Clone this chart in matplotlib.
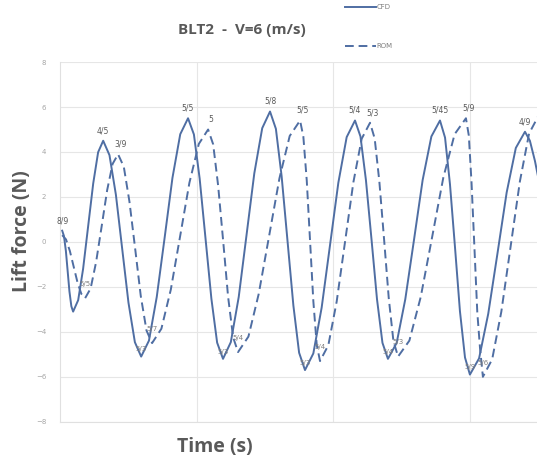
import matplotlib
matplotlib.use("Agg")
import matplotlib.pyplot as plt

# Datos (tiempo en unidades de la rejilla, fuerza en N)
cfd_time = [0.015, 0.028, 0.042, 0.055, 0.068, 0.082,
            0.095, 0.132, 0.168, 0.205, 0.242, 0.278,
            0.315, 0.361, 0.408, 0.454, 0.500, 0.547,
            0.593, 0.650, 0.707, 0.765, 0.822, 0.879,
            0.936, 0.979, 1.021, 1.064, 1.107, 1.149,
            1.192, 1.249, 1.307, 1.364, 1.421, 1.479,
            1.536, 1.579, 1.621, 1.664, 1.707, 1.749,
            1.792, 1.853, 1.914, 1.975, 2.036, 2.097,
            2.158, 2.198, 2.238, 2.279, 2.319, 2.359,
            2.399, 2.463, 2.526, 2.590, 2.653, 2.717,
            2.780, 2.817, 2.853, 2.890, 2.926, 2.963,
            2.999, 3.066, 3.133, 3.201, 3.268, 3.335,
            3.402, 3.438, 3.475, 3.511]
cfd_force = [0.5, 0.26, -0.4, -1.3, -2.2, -2.86,
             -3.1, -2.59, -1.2, 0.7, 2.6, 3.99,
             4.5, 3.86, 2.1, -0.3, -2.7, -4.46,
             -5.1, -4.39, -2.45, 0.2, 2.85, 4.79,
             5.5, 4.78, 2.82, 0.15, -2.53, -4.48,
             -5.2, -4.46, -2.45, 0.3, 3.05, 5.06,
             5.8, 5.03, 2.92, 0.05, -2.83, -4.93,
             -5.7, -4.96, -2.92, -0.15, 2.63, 4.66,
             5.4, 4.69, 2.75, 0.1, -2.55, -4.49,
             -5.2, -4.49, -2.55, 0.1, 2.75, 4.69,
             5.4, 4.64, 2.57, -0.25, -3.08, -5.14,
             -5.9, -5.18, -3.2, -0.5, 2.2, 4.18,
             4.9, 4.5, 3.6, 2.5]

rom_time = [0.015, 0.043, 0.071, 0.099, 0.127, 0.155,
            0.183, 0.223, 0.263, 0.304, 0.344, 0.384,
            0.424, 0.466, 0.507, 0.549, 0.590, 0.632,
            0.673, 0.741, 0.810, 0.878, 0.946, 1.015,
            1.083, 1.120, 1.156, 1.193, 1.229, 1.266,
            1.302, 1.378, 1.453, 1.529, 1.605, 1.680,
            1.756, 1.780, 1.805, 1.829, 1.853, 1.878,
            1.902, 1.963, 2.024, 2.085, 2.146, 2.207,
            2.268, 2.302, 2.336, 2.371, 2.405, 2.439,
            2.473, 2.556, 2.639, 2.722, 2.804, 2.887,
            2.970, 2.991, 3.011, 3.032, 3.053, 3.073,
            3.094, 3.162, 3.229, 3.297, 3.365, 3.432,
            3.500]
rom_force = [0.3, 0.11, -0.4, -1.1, -1.8, -2.31,
             -2.5, -2.07, -0.9, 0.7, 2.3, 3.47,
             3.9, 3.34, 1.8, -0.3, -2.4, -3.94,
             -4.5, -3.86, -2.12, 0.25, 2.63, 4.36,
             5.0, 4.34, 2.52, 0.05, -2.43, -4.24,
             -4.9, -4.21, -2.32, 0.25, 2.83, 4.71,
             5.4, 4.68, 2.72, 0.05, -2.63, -4.58,
             -5.3, -4.59, -2.65, 0.0, 2.65, 4.59,
             5.3, 4.6, 2.7, 0.1, -2.5, -4.4,
             -5.1, -4.39, -2.45, 0.2, 2.85, 4.79,
             5.5, 4.73, 2.62, -0.25, -3.13, -4.73,
             -6.0, -5.22, -3.1, -0.2, 2.7, 4.82,
             5.6]

# etiquetas de datos: índice del punto -> texto
cfd_labels = {0: "8/9", 12: "4/5", 24: "5/5", 36: "5/8", 48: "5/4", 60: "5/45", 72: "4/9"}
rom_labels = {12: "3/9", 24: "5", 36: "5/5", 48: "5/3", 60: "5/9", 72: "5/"}
cfd_low_labels = {18: "5/3", 30: "5/3", 42: "5/3", 54: "5/4", 66: "5/9"}
rom_low_labels = {6: "5/5", 18: "5/7", 30: "5/4", 42: "5/4", 54: "5/3", 66: "5/6"}

y_ticks = [-8, -6, -4, -2, 0, 2, 4, 6, 8]
x_grid = [1, 2, 3]

line_color = "#4f6ea3"
grey = "#7f7f7f"
dark = "#595959"

fig = plt.figure(figsize=(5.37, 4.63), dpi=100)
ax = fig.add_axes([0.112, 0.089, 0.888, 0.777])

ax.plot(cfd_time, cfd_force, color=line_color, lw=1.4, label="CFD")
ax.plot(rom_time, rom_force, color=line_color, lw=1.4, ls=(0, (4.5, 2.5)), label="ROM")

for i, txt in cfd_labels.items():
    ax.annotate(txt, (cfd_time[i], cfd_force[i]), xytext=(0, 4), textcoords="offset points",
                ha="center", va="bottom", fontsize=5.5, color=dark)
for i, txt in rom_labels.items():
    ax.annotate(txt, (rom_time[i], rom_force[i]), xytext=(2, 4), textcoords="offset points",
                ha="center", va="bottom", fontsize=5.5, color=dark)
for i, txt in cfd_low_labels.items():
    ax.annotate(txt, (cfd_time[i], cfd_force[i]), xytext=(0, 3), textcoords="offset points",
                ha="center", va="bottom", fontsize=5, color=grey)
for i, txt in rom_low_labels.items():
    ax.annotate(txt, (rom_time[i], rom_force[i]), xytext=(0, 8), textcoords="offset points",
                ha="center", va="bottom", fontsize=5, color=grey)

ax.set_xlim(0, 3.49)
ax.set_ylim(-8, 8)
ax.set_yticks(y_ticks)
ax.set_xticks(x_grid)
ax.set_xticklabels([])
ax.tick_params(length=0, labelsize=5, labelcolor="#a6a6a6", pad=10)
ax.grid(True, color="#e6e6e6", lw=0.8)
ax.set_axisbelow(True)
for side in ["top", "right"]:
    ax.spines[side].set_visible(False)
ax.spines["left"].set_color("#e0e0e0")
ax.spines["bottom"].set_color("#e0e0e0")

fig.text(0.45, 0.935, "BLT2  -  V=6 (m/s)", ha="center", va="center",
         fontsize=11, fontweight="bold", color=dark, family="Open Sans")
fig.text(0.041, 0.50, "Lift force (N)", rotation=90, ha="center", va="center",
         fontsize=14, fontweight="bold", color=dark, family="Open Sans")
fig.text(0.40, 0.035, "Time (s)", ha="center", va="center",
         fontsize=14, fontweight="bold", color=dark, family="Open Sans")

fig.legend(loc="upper left", bbox_to_anchor=(0.63, 1.005), frameon=False,
           fontsize=5, labelcolor=grey, handlelength=4.5, labelspacing=4.8,
           handletextpad=0.1)

fig.savefig("out.png", dpi=100)
